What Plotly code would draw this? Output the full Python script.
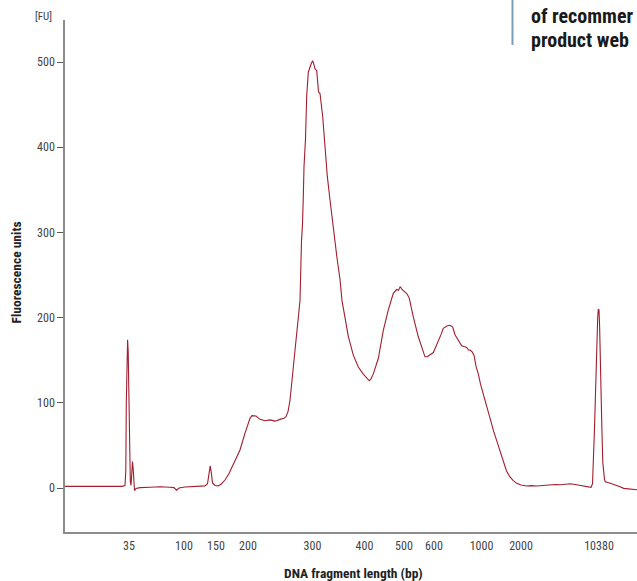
import plotly.graph_objects as go

# Electropherogram: migration position (arbitrary units) vs fluorescence (FU)
migration_pos = [
    0, 10, 20, 30, 40, 50, 57, 60, 60.8, 61.3, 61.8, 62.6, 63.2, 63.8, 64.5, 65.3,
    66, 66.8, 67.5, 68.2, 68.8, 69.5, 71, 75, 85, 95, 105, 109, 111.5, 114, 120, 130,
    140, 142.5, 144, 145.2, 146.3, 147.5, 150, 153, 156, 160, 164, 167, 171, 175, 180,
    185, 187, 191, 195, 200, 205, 210, 215, 219, 221, 223, 225, 227, 229, 231, 233,
    235, 236.5, 237.5, 238.3, 239, 240.5, 241.7, 243.3, 245, 246.5, 247.7, 248.5, 250,
    251.7, 253.5, 255, 257.7, 260, 262.3, 265, 267.7, 270, 272, 275, 277, 280, 283.3,
    288.3, 293.3, 298.3, 301, 304.3, 306, 308.3, 313.3, 318.3, 323.3, 328.3, 331.7,
    333.5, 335, 335.7, 337, 340, 342, 344.3, 346, 348.3, 353.3, 358.3, 360, 362.3, 365,
    368.3, 370.5, 373.3, 376, 378.3, 380, 382.3, 385, 387.7, 390, 391.7, 394, 396.7,
    399, 401.7, 403.5, 405, 407, 409, 411, 413.3, 415.5, 418.3, 421, 423.3, 426, 428.3,
    431, 433.3, 435.5, 438.3, 441.5, 445, 448, 451.7, 456, 461.7, 466, 471.7, 477,
    483.3, 490, 495, 500, 505.3, 510, 515, 518.7, 523, 526, 527.5, 528.5, 529.5, 530.3,
    531.2, 532, 532.7, 533.3, 534, 534.6, 535.3, 536, 537, 537.8, 538.7, 539.5, 540.3,
    542, 545.3, 548, 552, 555, 558.7, 563, 567, 572,
]
fluorescence = [
    2.0, 2.0, 1.8, 2.2, 1.9, 2.4, 2.0, 3.0, 20, 100, 158, 174, 160, 100, 40, 8,
    3, 18, 31, 22, 5, -3, -0.5, 0.5, 1.0, 1.5, 1.0, 0.5, -2.5, 0, 1.2, 1.5,
    2.5, 5, 18, 26, 18, 6, 3, 2.5, 4.5, 9.4, 17, 25, 34, 44.6, 64.5,
    81.8, 84.9, 84.5, 80.6, 79, 80, 78.5, 80.6, 82, 83.7, 89.6, 103, 125, 150, 170, 190,
    220, 290, 310, 342, 377, 410, 460, 488, 495, 499, 501, 499, 492,
    490, 465, 463, 436, 397, 366, 338, 311, 284, 270, 245, 220, 200, 178,
    156, 142, 133.7, 130.5, 125.9, 128, 134, 152, 185, 209, 228.5, 233,
    232, 236, 235.6, 233, 230.4, 228, 222.6, 212, 201, 177.5, 158, 154, 154, 156,
    159, 165, 172, 180, 187.4, 189, 190.5, 191, 189, 180, 177, 172, 167,
    166, 165, 162, 162, 160, 156, 143, 134, 122, 111, 99, 89, 78, 68,
    58, 49, 40, 29, 20, 13, 9, 5.5, 3.5, 2.3, 2.8, 2.3, 3,
    3.5, 4.2, 3.8, 4.5, 5, 4.2, 3.3, 2.7, 1.5, 0.8, 5, 30, 70, 103,
    150, 181, 200, 210, 209, 190, 142, 100, 64, 30, 17, 10, 7.4,
    6.5, 5.5, 4.5, 2.3, 1.5, -0.4, -1, -1.2, -2,
]

# Size-standard tick labels along the migration axis
tick_positions = [64, 119, 151, 183, 247.5, 299.5, 339, 369, 416.5, 456, 534]
tick_labels = ["35", "100", "150", "200", "300", "400", "500", "600", "1000", "2000", "10380"]

y_ticks = [0, 100, 200, 300, 400, 500]

NARROW = "Liberation Sans Narrow, Arial Narrow, Roboto Condensed, Liberation Sans, sans-serif"
W, H = 637, 581
ML, MR, MT, MB = 65, 0, 20, 49
PW, PH = W - ML - MR, H - MT - MB


def px(xp):
    return (xp - ML) / PW


def py(yp):
    return (H - MB - yp) / PH


fig = go.Figure()
fig.add_trace(go.Scatter(
    x=migration_pos, y=fluorescence, mode="lines",
    line=dict(color="#a11d2f", width=1.1),
    hoverinfo="skip", showlegend=False,
))

fig.update_layout(
    width=W, height=H,
    margin=dict(l=ML, r=MR, t=MT, b=MB, pad=0),
    paper_bgcolor="white", plot_bgcolor="white",
    font=dict(family=NARROW, size=12, color="#444444"),
    xaxis=dict(
        range=[0, 572], tickmode="array", tickvals=tick_positions, ticktext=tick_labels,
        showgrid=False, zeroline=False, showline=True, linecolor="#8c8c8c", linewidth=2,
        ticks="", tickfont=dict(family=NARROW, size=12, color="#444444"),
        ticklabelstandoff=2,
    ),
    yaxis=dict(
        range=[-51.6, 549.3], tickmode="array", tickvals=y_ticks,
        showgrid=False, zeroline=False, showline=True, linecolor="#8c8c8c", linewidth=1.5,
        ticks="outside", ticklen=6, tickcolor="#555555", tickwidth=1,
        tickfont=dict(family=NARROW, size=12, color="#444444"),
    ),
    annotations=[
        dict(text="[FU]", x=px(43), y=py(16), xref="paper", yref="paper",
             xanchor="center", yanchor="middle",
             showarrow=False, font=dict(family=NARROW, size=11, color="#444444")),
        dict(text="<b>Fluorescence units</b>", x=px(15), y=py(272.5), xref="paper",
             yref="paper", xanchor="center", yanchor="middle",
             showarrow=False, textangle=-90,
             font=dict(family=NARROW, size=13.5, color="#222222")),
        dict(text="<b>DNA fragment length (bp)</b>", x=px(353.5), y=py(573), xref="paper",
             yref="paper", xanchor="center", yanchor="middle", showarrow=False,
             font=dict(family=NARROW, size=13.5, color="#222222")),
        dict(text="<b>of recommer</b>", x=px(529), y=py(16), xref="paper", yref="paper",
             xanchor="left", yanchor="middle", showarrow=False,
             font=dict(family=NARROW, size=20, color="#1a1a1a")),
        dict(text="<b>product web</b>", x=px(529), y=py(40), xref="paper", yref="paper",
             xanchor="left", yanchor="middle", showarrow=False,
             font=dict(family=NARROW, size=20, color="#1a1a1a")),
    ],
    shapes=[
        dict(type="line", xref="paper", yref="paper", x0=px(512.5), x1=px(512.5),
             y0=py(0), y1=py(45), line=dict(color="#7a9fbb", width=2)),
    ],
)

fig.write_html(
    "out.html",
    config={"displayModeBar": False},
    post_script="document.body.style.margin='0';document.body.style.overflow='hidden';",
)
